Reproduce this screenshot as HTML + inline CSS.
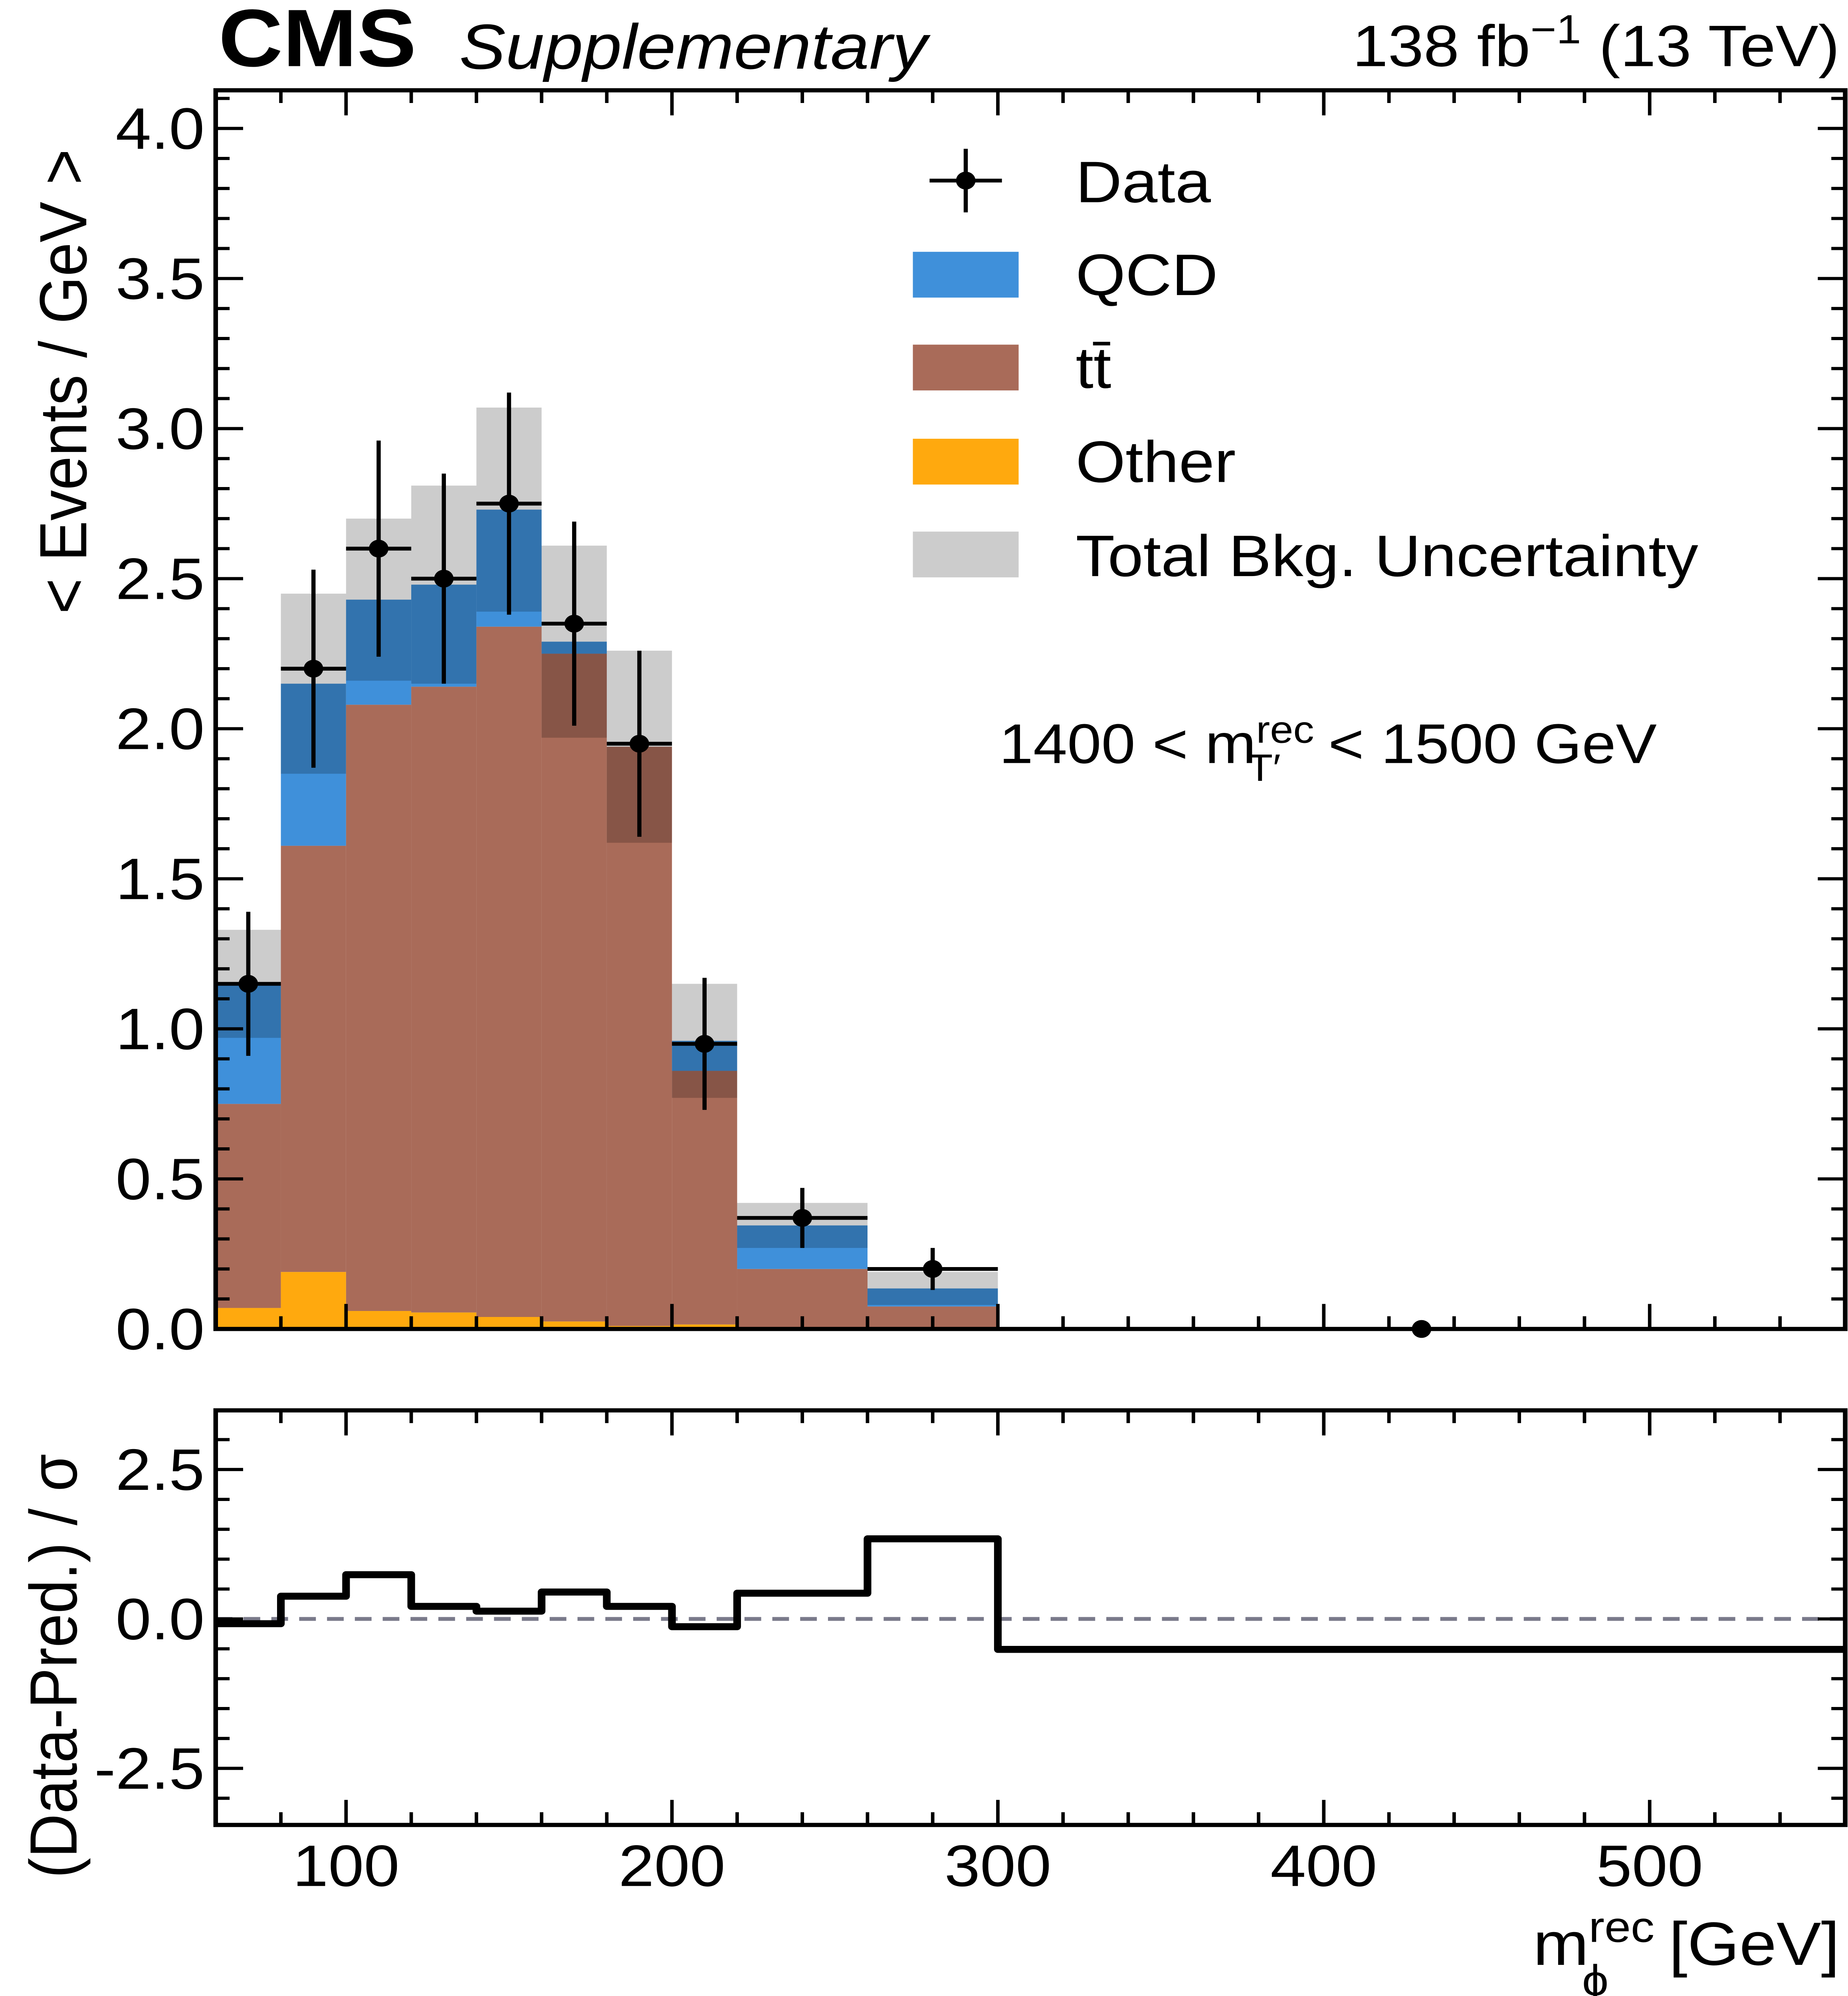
<!DOCTYPE html>
<html><head><meta charset="utf-8"><style>
html,body{margin:0;padding:0;background:#fff;width:100vw;height:100vh;overflow:hidden;}
svg{position:absolute;left:0;top:0;width:100vw;height:100vh;display:block;font-family:"Liberation Sans",Arial,sans-serif;}
</style></head><body>
<svg id="chart" viewBox="0 0 1328 1569.5" preserveAspectRatio="none" xmlns="http://www.w3.org/2000/svg">
<g id="main"></g>
<g id="ratio"></g>
<g id="texts">
<text x="157" y="52" font-size="64" font-weight="bold">CMS</text>
<text x="330" y="54" font-size="50" font-style="italic">Supplementary</text>
<text x="1322" y="52" font-size="46" text-anchor="end">138 fb<tspan dy="-18" font-size="32">−1</tspan><tspan dy="18"> (13 TeV)</tspan></text>
<text transform="translate(62,300) rotate(-90)" font-size="48" text-anchor="middle">&lt; Events / GeV &gt;</text>
<text transform="translate(55,1310) rotate(-90)" font-size="48" text-anchor="middle">(Data-Pred.) / σ</text>
<text x="1322" y="1545" font-size="48" text-anchor="end">m<tspan dy="-18" font-size="34">rec</tspan><tspan dx="-52" dy="42" font-size="34">ϕ</tspan><tspan dx="30" dy="-24"> [GeV]</tspan></text>
<text x="718" y="600" font-size="44">1400 &lt; m<tspan dy="-16" font-size="30">rec</tspan><tspan dx="-48" dy="30" font-size="30">T′</tspan><tspan dx="22" dy="-14"> &lt; 1500 GeV</tspan></text>
</g>
<g id="legend">
<g><line x1="668" y1="142" x2="720" y2="142" stroke="#000" stroke-width="3"/><line x1="694" y1="117" x2="694" y2="167" stroke="#000" stroke-width="3"/><circle cx="694" cy="142" r="7"/><text x="773" y="159" font-size="46">Data</text></g>
<g><rect x="656" y="198" width="76" height="36" fill="#3f90da"/><text x="773" y="232" font-size="46">QCD</text></g>
<g><rect x="656" y="271" width="76" height="36" fill="#a96b59"/><text x="773" y="305" font-size="46">tt̄</text></g>
<g><rect x="656" y="345" width="76" height="36" fill="#ffa90e"/><text x="773" y="379" font-size="46">Other</text></g>
<g><rect x="656" y="418" width="76" height="36" fill="#000" fill-opacity="0.2"/><text x="773" y="453" font-size="46">Total Bkg. Uncertainty</text></g>
</g>
</svg>
<script>
const binEdges=[60,80,100,120,140,160,180,200,220,260,300,560];
const otherVals=[0.07,0.19,0.06,0.055,0.04,0.025,0.01,0.015,0.0,0.0,0];
const ttbarVals=[0.68,1.42,2.02,2.085,2.30,2.225,1.93,0.845,0.20,0.075,0];
const qcdVals=[0.40,0.54,0.35,0.34,0.39,0.04,0.0,0.10,0.145,0.06,0];
const uncVals=[0.18,0.30,0.27,0.33,0.34,0.32,0.32,0.19,0.075,0.055,0];
const dataX=[70,90,110,130,150,170,190,210,240,280,430];
const dataY=[1.15,2.2,2.6,2.5,2.75,2.35,1.95,0.95,0.37,0.2,0.0];
const dataErr=[0.24,0.33,0.36,0.35,0.37,0.34,0.31,0.22,0.10,0.07,0];
const dataXerr=[10,10,10,10,10,10,10,10,20,20,0];
const pullVals=[-0.08,0.38,0.74,0.21,0.13,0.45,0.21,-0.13,0.43,1.34,-0.51];
const xTicks=[100,200,300,400,500];
const yTicks=[0,0.5,1,1.5,2,2.5,3,3.5,4];
const rTicks=[-2.5,0,2.5];

const L=155,R=1326,T=71,B=1045,RT=1109,RB=1435;
const X=v=>L+(v-60)*(R-L)/500;
const Y=v=>B-(v)*236;
const RY=v=>1273-v*47;
const NS="http://www.w3.org/2000/svg";
function mk(tag,parent,attrs){const e=document.createElementNS(NS,tag);for(const k in attrs)e.setAttribute(k,attrs[k]);parent.appendChild(e);return e;}
const main=document.getElementById('main'),ratio=document.getElementById('ratio');

for(let i=0;i<otherVals.length;i++){
  const x0=X(binEdges[i]),x1=X(binEdges[i+1]);
  const o=otherVals[i],t=o+ttbarVals[i],q=t+qcdVals[i],u=uncVals[i];
  let e;
  e=mk('rect',main,{x:x0,y:Y(o),width:x1-x0,height:Y(0)-Y(o),fill:'#ffa90e'});
  
  
  e=mk('rect',main,{x:x0,y:Y(t),width:x1-x0,height:Y(o)-Y(t),fill:'#a96b59'});
  
  
  e=mk('rect',main,{x:x0,y:Y(q),width:x1-x0,height:Y(t)-Y(q),fill:'#3f90da'});
  
  
  if(u>0){
    e=mk('rect',main,{x:x0,y:Y(q+u),width:x1-x0,height:Y(q-u)-Y(q+u),fill:'#000','fill-opacity':0.2});
    
    
  }
}
for(let i=0;i<dataX.length;i++){
  const g=mk('g',main,{});
  
  
  const cx=X(dataX[i]),cy=Y(dataY[i]);
  if(dataXerr[i]>0)mk('line',g,{x1:X(dataX[i]-dataXerr[i]),x2:X(dataX[i]+dataXerr[i]),y1:cy,y2:cy,stroke:'#000','stroke-width':3});
  if(dataErr[i]>0)mk('line',g,{x1:cx,x2:cx,y1:Y(dataY[i]-dataErr[i]),y2:Y(dataY[i]+dataErr[i]),stroke:'#000','stroke-width':3});
  mk('circle',g,{cx:cx,cy:cy,r:7,fill:'#000'});
}
function frame(parent,top,bot){
  let f=mk('rect',parent,{x:L,y:top,width:R-L,height:bot-top,fill:'none',stroke:'#000','stroke-width':3.3});
  
  
  for(let v=60;v<=560;v+=20){
    const major=v%100===0,len=major?19.7:10,x=X(v);
    mk('line',parent,{x1:x,x2:x,y1:bot,y2:bot-len,stroke:'#000','stroke-width':2.5});
    mk('line',parent,{x1:x,x2:x,y1:top,y2:top+len,stroke:'#000','stroke-width':2.5});
  }
}
frame(main,T,B);
for(let k=0;k<=41;k++){const v=k/10,y=Y(v);if(y<T)continue;const len=(k%5===0)?19.7:10;
  mk('line',main,{x1:L,x2:L+len,y1:y,y2:y,stroke:'#000','stroke-width':2.5});
  mk('line',main,{x1:R,x2:R-len,y1:y,y2:y,stroke:'#000','stroke-width':2.5});}
yTicks.forEach(v=>{const t=mk('text',main,{x:147,y:Y(v)+16,'font-size':46,'text-anchor':'end'});t.textContent=v.toFixed(1);
  
  });

const dash=mk('line',ratio,{x1:L,x2:R,y1:RY(0),y2:RY(0),stroke:'#7a7a8a','stroke-width':3,'stroke-dasharray':'12 8'});


let d='';
for(let i=0;i<pullVals.length;i++){const y=RY(pullVals[i]);d+=(i===0?'M':'L')+X(binEdges[i])+','+y+'L'+X(binEdges[i+1])+','+y;}
const step=mk('path',ratio,{d:d,fill:'none',stroke:'#000','stroke-width':5.5,'stroke-linejoin':'round'});


frame(ratio,RT,RB);
for(let k=-7;k<=7;k++){const v=k*0.5,y=RY(v);if(y<=RT||y>=RB)continue;const len=(k%5===0)?19.7:10;
  mk('line',ratio,{x1:L,x2:L+len,y1:y,y2:y,stroke:'#000','stroke-width':2.5});
  mk('line',ratio,{x1:R,x2:R-len,y1:y,y2:y,stroke:'#000','stroke-width':2.5});}
rTicks.forEach(v=>{const t=mk('text',ratio,{x:147,y:RY(v)+16,'font-size':46,'text-anchor':'end'});t.textContent=v.toFixed(1);
  
  });
xTicks.forEach(v=>{const t=mk('text',ratio,{x:X(v),y:1483,'font-size':46,'text-anchor':'middle'});t.textContent=v;
  
  });
</script>
</body></html>
